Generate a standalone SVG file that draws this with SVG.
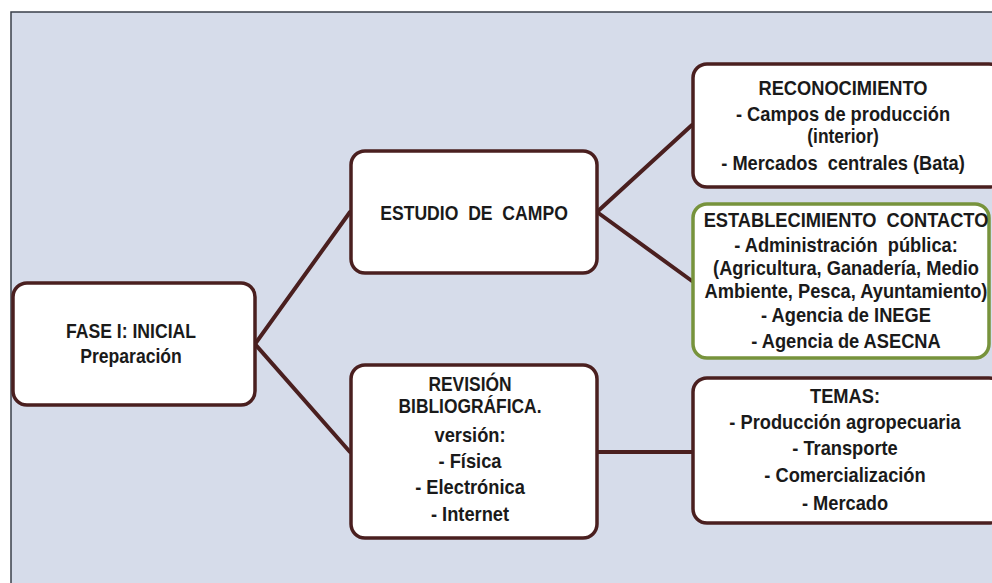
<svg xmlns="http://www.w3.org/2000/svg" width="992" height="583" viewBox="0 0 992 583">
<style>
.box{fill:#ffffff;stroke:#4a1f1f;stroke-width:3.5}
.green{stroke:#77933c}
.t{font-family:"Liberation Sans",Arial,sans-serif;font-weight:bold;font-size:21px;fill:#1a1a1a;text-anchor:middle;white-space:pre}
.s{font-size:20px}
.c{fill:none;stroke:#4a1f1f;stroke-width:4;stroke-linecap:round}
</style>
<rect x="0" y="0" width="992" height="583" fill="#ffffff"/>
<rect x="11" y="12" width="990" height="580" fill="#d6dcea" stroke="#3a3f4a" stroke-width="1.5"/>
<g id="connectors">
<line class="c" x1="255" y1="344" x2="350" y2="212"/>
<line class="c" x1="255" y1="344" x2="350" y2="452"/>
<line class="c" x1="597" y1="212" x2="692" y2="125"/>
<line class="c" x1="597" y1="212" x2="692" y2="281"/>
<line class="c" x1="597" y1="452" x2="692" y2="452"/>
</g>
<g id="fase">
<rect class="box" x="13" y="283" width="242" height="122" rx="14"/>
<g transform="translate(131 0) scale(0.88 1)">
<text class="t s" x="0" y="338">FASE I: INICIAL</text>
<text class="t s" x="0" y="363">Preparación</text>
</g>
</g>
<g id="estudio">
<rect class="box" x="351" y="151" width="246" height="122" rx="14"/>
<g transform="translate(474 0) scale(0.88 1)">
<text class="t s" x="0" y="220" xml:space="preserve">ESTUDIO  DE  CAMPO</text>
</g>
</g>
<g id="revision">
<rect class="box" x="351" y="365" width="246" height="173" rx="14"/>
<g transform="translate(470 0) scale(0.87 1)">
<text class="t s" x="0" y="391">REVISIÓN</text>
<text class="t s" x="0" y="413">BIBLIOGRÁFICA.</text>
<text class="t" x="0" y="442">versión:</text>
<text class="t" x="0" y="468">- Física</text>
<text class="t" x="0" y="494">- Electrónica</text>
<text class="t" x="0" y="521">- Internet</text>
</g>
</g>
<g id="reconocimiento">
<rect class="box" x="693" y="64" width="310" height="123" rx="14"/>
<g transform="translate(843 0) scale(0.87 1)">
<text class="t" x="0" y="95">RECONOCIMIENTO</text>
<text class="t" x="0" y="121">- Campos de producción</text>
<text class="t s" x="0" y="143">(interior)</text>
<text class="t" x="0" y="170" xml:space="preserve">- Mercados  centrales (Bata)</text>
</g>
</g>
<g id="establecimiento">
<rect class="box green" x="693" y="204" width="296" height="154" rx="14"/>
<g transform="translate(846 0) scale(0.87 1)">
<text class="t" x="0" y="227" xml:space="preserve">ESTABLECIMIENTO  CONTACTO</text>
<text class="t" x="0" y="252" xml:space="preserve">- Administración  pública:</text>
<text class="t" x="0" y="275">(Agricultura, Ganadería, Medio</text>
<text class="t" x="0" y="298">Ambiente, Pesca, Ayuntamiento)</text>
<text class="t" x="0" y="322">- Agencia de INEGE</text>
<text class="t" x="0" y="348">- Agencia de ASECNA</text>
</g>
</g>
<g id="temas">
<rect class="box" x="693" y="378" width="310" height="145" rx="14"/>
<g transform="translate(845 0) scale(0.87 1)">
<text class="t" x="0" y="403">TEMAS:</text>
<text class="t" x="0" y="429">- Producción agropecuaria</text>
<text class="t" x="0" y="455">- Transporte</text>
<text class="t" x="0" y="482">- Comercialización</text>
<text class="t" x="0" y="510">- Mercado</text>
</g>
</g>
</svg>
